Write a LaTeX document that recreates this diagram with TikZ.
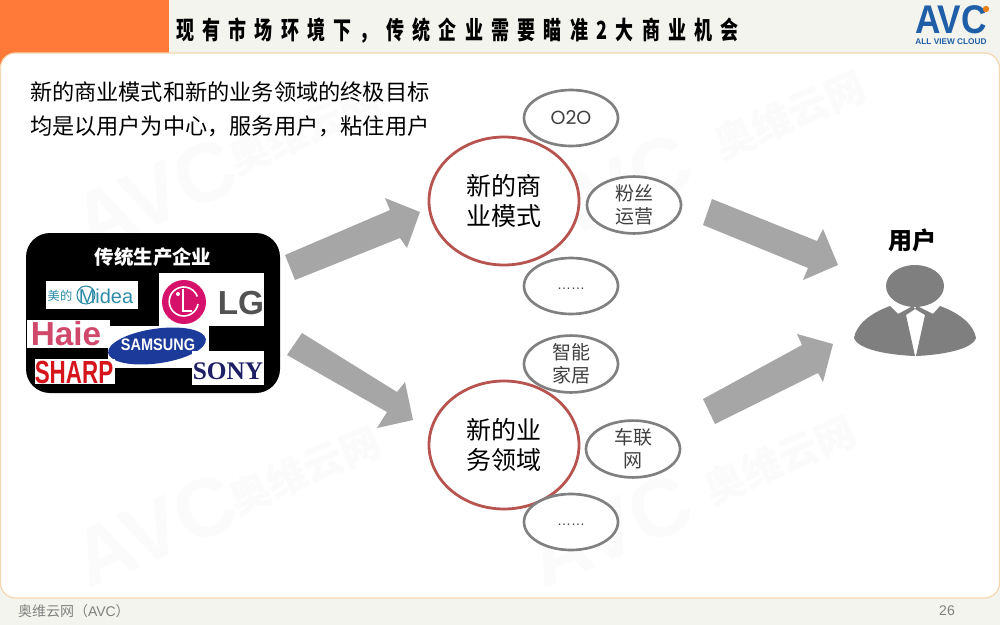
\documentclass[tikz,border=0pt]{standalone}
\usepackage{fontspec}
\setmainfont{Noto Sans CJK SC}
\newfontfamily\cjktitle[LetterSpace=46]{Noto Sans CJK SC}
\newfontfamily\lat{Liberation Sans}
\newfontfamily\latser{Liberation Serif}
\newfontfamily\pop{Poppins}
\newcommand{\fs}[2]{\fontsize{#1pt}{#2pt}\selectfont}
\definecolor{pagebg}{HTML}{F4F4EF}
\definecolor{panelline}{HTML}{F5D7AE}
\definecolor{orangebar}{HTML}{FF7A38}
\definecolor{arrowgray}{HTML}{A6A6A6}
\definecolor{ringred}{HTML}{B85450}
\definecolor{ringgray}{HTML}{808080}
\definecolor{persongray}{HTML}{7F7F7F}
\definecolor{wm}{HTML}{FBFBFB}
\definecolor{avcblue}{HTML}{1F5FA8}
\definecolor{mideacol}{HTML}{2E8CA8}
\definecolor{haiercol}{HTML}{D0486A}
\definecolor{sharpcol}{HTML}{D5141C}
\definecolor{samcol}{HTML}{1B3A9A}
\definecolor{sonycol}{HTML}{1F1F66}
\definecolor{lgcol}{HTML}{D6116B}
\tikzset{
  x=0.75pt,y=-0.75pt,
  bigring/.style={draw=ringred,line width=2.1pt,fill=white,ellipse,minimum width=112.5pt,minimum height=96pt,inner sep=0pt,align=center,font=\fs{18.75}{22.5},text=black},
  smallring/.style={draw=ringgray,line width=2pt,fill=white,ellipse,minimum width=70.5pt,minimum height=42pt,inner sep=0pt,align=center,font=\fs{14.25}{17},text=black!75},
  blockarrow/.style={fill=arrowgray,draw=none},
  logobox/.style={fill=white,draw=none},
  plain/.style={inner sep=0pt,outer sep=0pt},
  wmark/.style={plain,text=wm,rotate=23,font=\lat\bfseries\fs{62}{62}},
  wmarkb/.style={plain,text=wm,rotate=23,font=\bfseries\fs{30}{32}},
  foot/.style={plain,text=black!50,font=\fs{10.5}{12}},
}
\usetikzlibrary{shapes.geometric}
\begin{document}
\begin{tikzpicture}
\useasboundingbox (0,0) rectangle (1000,625);
\fill[pagebg] (0,0) rectangle (1000,625);
\fill[orangebar] (0,0) rectangle (169,70);
\fill[white,draw=panelline,line width=0.9pt,rounded corners=11.25pt] (0.5,53) rectangle (999.5,598);
% watermarks
\node[wmark] (w1) at (155,195) {AVC};
\node[wmarkb] (w2) at (305,130) {奥维云网};
\node[wmark] (w3) at (155,530) {AVC};
\node[wmarkb] (w4) at (305,470) {奥维云网};
\node[wmark] (w5) at (610,190) {AVC};
\node[wmarkb] (w6) at (790,115) {奥维云网};
\node[wmark] (w7) at (610,530) {AVC};
\node[wmarkb] (w8) at (780,460) {奥维云网};
% title
\node[plain,anchor=west,font=\cjktitle\bfseries\fs{18.75}{20}] (title) at (176,31) {\scalebox{0.72}[1]{现有市场环境下，传统企业需要瞄准2大商业机会}};
% AVC logo
\node[plain,text=avcblue,font=\lat\bfseries\fs{30}{30}] (avc) at (951,20) {\scalebox{0.88}[1]{AVC}};
\fill[orange!70!brown] (986,9) circle (3.2);
\node[plain,text=avcblue,font=\lat\bfseries\fs{6.2}{7}] (avcs) at (951,42) {ALL VIEW CLOUD};
% intro
\node[plain,anchor=west,font=\fs{16.65}{20},text=black] (intro1) at (30,92) {新的商业模式和新的业务领域的终极目标};
\node[plain,anchor=west,font=\fs{16.65}{20},text=black] (intro2) at (30,126) {均是以用户为中心，服务用户，粘住用户};
% block arrows
\fill[blockarrow] (285,255) -- (390,210) -- (385,198) -- (420,212) -- (407,248) -- (400,238) -- (295,280) -- cycle;
\fill[blockarrow] (302,333) -- (397,392) -- (405,382) -- (413,420) -- (377,428) -- (387,412) -- (287,355) -- cycle;
\fill[blockarrow] (712,199) -- (817,241) -- (823,229) -- (838,265) -- (803,280) -- (808,268) -- (703,225) -- cycle;
\fill[blockarrow] (703,399) -- (802,345) -- (797,334) -- (833,344) -- (823,382) -- (818,373) -- (715,424) -- cycle;
% big rings
\node[bigring] (biz) at (504,201) {新的商\\业模式};
\node[bigring] (dom) at (504,445) {新的业\\务领域};
% small rings
\node[smallring,font=\pop\fs{14.25}{17}] (a1) at (571,118) {O2O};
\node[smallring] (a2) at (634,205) {粉丝\\运营};
\node[smallring,font=\lat\fs{10.5}{12}] (a3) at (571,286) {\raisebox{-5pt}{……}};
\node[smallring] (b1) at (571,364) {智能\\家居};
\node[smallring] (b2) at (633,449) {车联\\网};
\node[smallring,font=\lat\fs{10.5}{12}] (b3) at (571,522) {\raisebox{-5pt}{……}};
% company box
\fill[black,rounded corners=18pt] (26,233) rectangle (280,393);
\node[plain,text=white,font=\bfseries\fs{14.6}{16}] (ctitle) at (153,257) {传统生产企业};
% Midea
\fill[logobox] (46,281) rectangle (138,309);
\node[plain,text=mideacol,font=\fs{9.2}{10}] (mid1) at (60,296) {美的};
\draw[mideacol,line width=0.8pt] (86,295) circle (9);
\node[plain,text=mideacol,font=\lat\fs{15}{16}] (mid2) at (106,296) {Midea};
% LG
\fill[logobox] (159,273) rectangle (264,326);
\fill[lgcol] (184,302) circle (22);
\draw[white,line width=1.2pt] (198,304) arc (10:340:14.5);
\fill[white] (178,294) circle (2);
\draw[white,line width=1.4pt] (183,289) -- (183,311) -- (192,311);
\node[plain,text=black!68,font=\lat\bfseries\fs{25}{27}] (lg) at (241,303) {LG};
% Haier
\fill[logobox] (27,320) rectangle (110,348);
\node[plain,text=haiercol,font=\lat\bfseries\fs{25}{27}] (haier) at (66,334) {Haie};
% Samsung
\fill[logobox] (108,326) rectangle (209,368);
\node[ellipse,draw=none,fill=samcol,minimum width=74pt,minimum height=26pt,inner sep=0pt,rotate=8] (sam) at (157,346) {};
\node[plain,text=white,font=\lat\bfseries\fs{12.5}{14}] (samt) at (158,345) {\scalebox{0.87}[1]{SAMSUNG}};
% Sharp
\fill[logobox] (35,359) rectangle (115,384);
\node[plain,text=sharpcol,font=\lat\bfseries\fs{24}{26}] (sharp) at (74,372) {\scalebox{0.7}[1]{SHARP}};
% Sony
\fill[logobox] (192,351) rectangle (264,385);
\node[plain,text=sonycol,font=\latser\bfseries\fs{19}{20}] (sony) at (228,371) {SONY};
% user
\node[plain,text=black,font=\bfseries\fs{18}{20}] (user) at (912,240) {用户};
\fill[persongray] (915,286) ellipse [x radius=29,y radius=21];
\fill[persongray] (890,306) .. controls (868,314) and (856,326) .. (854,338) .. controls (858,350) and (890,355) .. (915,356) -- (906,315) -- (915,309) -- (913,306) -- (898,314) -- cycle;
\fill[persongray] (940,306) .. controls (962,314) and (974,326) .. (976,338) .. controls (972,350) and (940,355) .. (916,356) -- (925,315) -- (915,309) -- (917,306) -- (933,314) -- cycle;
% footer
\node[foot,anchor=west] (f1) at (18,611) {奥维云网（{\lat AVC}）};
\node[foot,font=\lat\fs{10.5}{12}] (f2) at (947,611) {26};
\end{tikzpicture}
\end{document}
